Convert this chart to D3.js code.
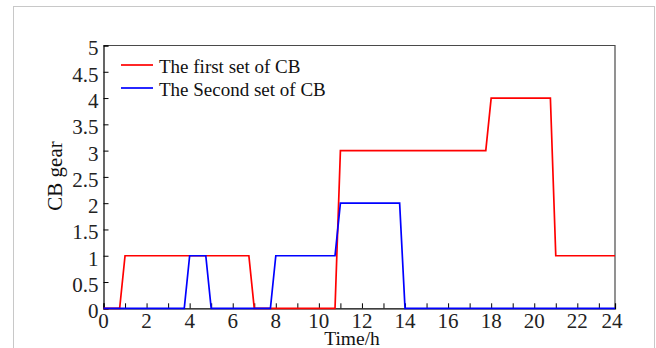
<!DOCTYPE html>
<html>
<head>
<meta charset="utf-8">
<script src="https://cdn.jsdelivr.net/npm/d3@7/dist/d3.min.js"></script>
<style>
  html, body { margin: 0; padding: 0; background: #fff; }
  svg { display: block; }
</style>
</head>
<body>
<svg id="chart" width="656" height="348"></svg>
<script>
// Switching schedule of the two capacitor-bank (CB) sets over one day (15-min steps)
const firstSetTimes  = [0, 0.75, 1, 6.75, 7, 10.75, 11, 17.75, 18, 20.75, 21, 23.75];
const firstSetGears  = [0, 0,    1, 1,    0, 0,     3,  3,     4,  4,     1,  1];
const secondSetTimes = [0, 3.75, 4, 4.75, 5, 7.75, 8, 10.75, 11, 13.75, 14, 23.75];
const secondSetGears = [0, 0,    1, 1,    0, 0,    1, 1,     2,  2,     0,  0];

const seriesNames  = ["The first set of CB", "The Second set of CB"];
const seriesColors = ["#ff0000", "#0000ff"];

const xTickValues = [0, 2, 4, 6, 8, 10, 12, 14, 16, 18, 20, 22, 24];
const xTickLabels = ["0", "2", "4", "6", "8", "10", "12", "14", "16", "18", "20", "22", "24"];
const xMinorTicks = [0, 1, 2, 3, 4, 5, 6, 7, 8, 9, 10, 11, 12, 13, 14, 15, 16, 17, 18, 19, 20, 21, 22, 23];
const yTickValues = [0, 0.5, 1, 1.5, 2, 2.5, 3, 3.5, 4, 4.5, 5];
const yTickLabels = ["0", "0.5", "1", "1.5", "2", "2.5", "3", "3.5", "4", "4.5", "5"];

const SERIF = '"Liberation Serif", "Times New Roman", Times, serif';
const svg = d3.select("#chart");

// light outer border of the figure
svg.append("rect")
  .attr("x", 13.5).attr("y", 6.5)
  .attr("width", 641).attr("height", 360)
  .attr("fill", "none").attr("stroke", "#c8c8c8").attr("stroke-width", 1);

const plot = { left: 103.5, right: 615, top: 45.5, bottom: 308.3 };

const x = d3.scaleLinear().domain([0, 23.75]).range([plot.left, plot.right]);
const y = d3.scaleLinear().domain([0, 5]).range([plot.bottom, plot.top]);

// top and right frame edges
svg.append("path")
  .attr("d", `M${plot.left},${plot.top}H${plot.right}V${plot.bottom}`)
  .attr("fill", "none").attr("stroke", "#4a4a4a").attr("stroke-width", 1.2);

// left axis with inward ticks
const yAxis = d3.axisLeft(y).tickValues(yTickValues).tickSize(-5).tickFormat((d, i) => yTickLabels[i]);
const gy = svg.append("g").attr("transform", `translate(${plot.left},0)`).call(yAxis)
  .attr("font-family", SERIF).attr("font-size", 21);
gy.select(".domain").attr("stroke", "#000").attr("stroke-width", 1.2);
gy.selectAll(".tick line").attr("stroke", "#000");
gy.selectAll(".tick text")
  .attr("x", -5).attr("dy", "0.45em")
  .attr("font-family", SERIF).attr("font-size", 21).attr("fill", "#222");

// bottom axis: inward hourly ticks
const xAxis = d3.axisBottom(x).tickValues(xMinorTicks).tickSize(-5).tickFormat("");
const gx = svg.append("g").attr("transform", `translate(0,${plot.bottom})`).call(xAxis);
gx.select(".domain").attr("stroke", "#000").attr("stroke-width", 1.2);
gx.selectAll(".tick line").attr("stroke", "#000");

// even-hour labels (the last one is held inside the frame)
svg.append("g")
  .attr("font-family", SERIF).attr("font-size", 21).attr("fill", "#222")
  .selectAll("text")
  .data(xTickValues)
  .join("text")
  .attr("x", d => Math.min(x(d), x.range()[1] - 3))
  .attr("y", plot.bottom + 20)
  .attr("text-anchor", "middle")
  .text((d, i) => xTickLabels[i]);

// step lines
const line = d3.line().x(d => x(d[0])).y(d => y(d[1]));
const firstSet = firstSetTimes.map((t, i) => [t, firstSetGears[i]]);
const secondSet = secondSetTimes.map((t, i) => [t, secondSetGears[i]]);

[firstSet, secondSet].forEach((pts, i) => {
  svg.append("path")
    .datum(pts)
    .attr("d", line)
    .attr("fill", "none")
    .attr("stroke", seriesColors[i])
    .attr("stroke-width", 1.7)
    .attr("stroke-linejoin", "miter");
});

// legend
const legend = svg.append("g").attr("font-family", SERIF).attr("font-size", 19).attr("fill", "#111");
seriesNames.forEach((name, i) => {
  const ly = 65 + i * 23;
  legend.append("line")
    .attr("x1", 121).attr("x2", 153).attr("y1", ly).attr("y2", ly)
    .attr("stroke", seriesColors[i]).attr("stroke-width", 1.7);
  legend.append("text")
    .attr("x", 159).attr("y", ly + 7.5)
    .text(name);
});

// axis titles
svg.append("text")
  .attr("transform", "translate(62,176) rotate(-90)")
  .attr("text-anchor", "middle")
  .attr("font-family", SERIF).attr("font-size", 21).attr("fill", "#111")
  .text("CB gear");

svg.append("text")
  .attr("x", 352).attr("y", 345)
  .attr("text-anchor", "middle")
  .attr("font-family", SERIF).attr("font-size", 19.5).attr("fill", "#111")
  .text("Time/h");
</script>
</body>
</html>
